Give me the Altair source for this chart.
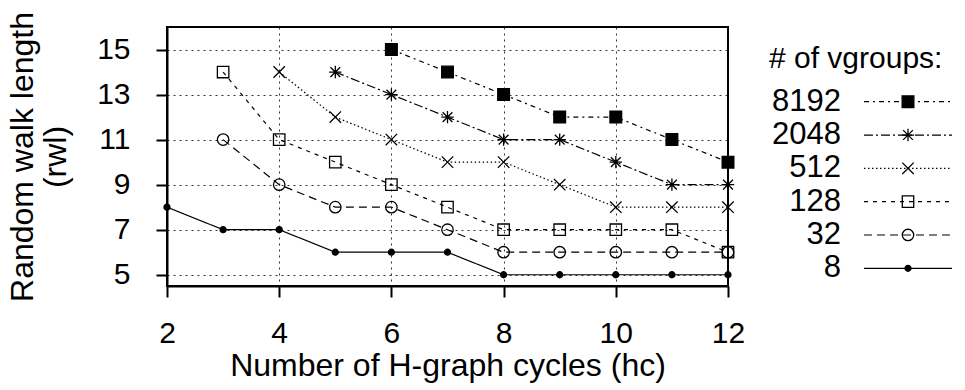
import altair as alt
import pandas as pd

# ---------------- data ----------------
series_order = ["8192", "2048", "512", "128", "32", "8"]

hc_8192 = [6, 7, 8, 9, 10, 11, 12]
rwl_8192 = [15, 14, 13, 12, 12, 11, 10]

hc_2048 = [5, 6, 7, 8, 9, 10, 11, 12]
rwl_2048 = [14, 13, 12, 11, 11, 10, 9, 9]

hc_512 = [4, 5, 6, 7, 8, 9, 10, 11, 12]
rwl_512 = [14, 12, 11, 10, 10, 9, 8, 8, 8]

hc_128 = [3, 4, 5, 6, 7, 8, 9, 10, 11, 12]
rwl_128 = [14, 11, 10, 9, 8, 7, 7, 7, 7, 6]

hc_32 = [3, 4, 5, 6, 7, 8, 9, 10, 11, 12]
rwl_32 = [11, 9, 8, 8, 7, 6, 6, 6, 6, 6]

hc_8 = [2, 3, 4, 5, 6, 7, 8, 9, 10, 11, 12]
rwl_8 = [8, 7, 7, 6, 6, 6, 5, 5, 5, 5, 5]

x_ticks = [2, 4, 6, 8, 10, 12]
y_ticks = [5, 7, 9, 11, 13, 15]
legend_title = "# of vgroups:"

# ---------------- tables ----------------
rows = []
for name, xs, ys in [
    ("8192", hc_8192, rwl_8192),
    ("2048", hc_2048, rwl_2048),
    ("512", hc_512, rwl_512),
    ("128", hc_128, rwl_128),
    ("32", hc_32, rwl_32),
    ("8", hc_8, rwl_8),
]:
    for x, y in zip(xs, ys):
        rows.append({"series": name, "hc": x, "rwl": y})
df = pd.DataFrame(rows)

leg_line = pd.DataFrame(
    [{"series": s, "row": i + 1, "lx": lx} for i, s in enumerate(series_order) for lx in (0, 1)]
)
leg_pt = pd.DataFrame([{"series": s, "row": i + 1, "lx": 0.5} for i, s in enumerate(series_order)])
leg_lab = pd.DataFrame([{"series": s, "row": i + 1, "lx": 0} for i, s in enumerate(series_order)])
leg_ttl = pd.DataFrame([{"label": legend_title, "row": 0, "lx": 0}])

# ---------------- styles ----------------
FONT = "Liberation Sans"
SQ_FILLED = "M-0.9,-0.9L0.9,-0.9L0.9,0.9L-0.9,0.9Z"
ASTER = "M-0.95,0L0.95,0M0,-0.95L0,0.95M-0.75,-0.75L0.75,0.75M-0.75,0.75L0.75,-0.75"
XMARK = "M-0.88,-0.88L0.88,0.88M-0.88,0.88L0.88,-0.88"
SQ_OPEN = "M-0.88,-0.88L0.88,-0.88L0.88,0.88L-0.88,0.88Z"
CIRC_OPEN = "M-0.88,0A0.88,0.88 0 1,0 0.88,0A0.88,0.88 0 1,0 -0.88,0Z"
CIRC_FILLED = "M-0.46,0A0.46,0.46 0 1,0 0.46,0A0.46,0.46 0 1,0 -0.46,0Z"

dash_scale = alt.Scale(domain=series_order,
                       range=[[5, 4, 2, 4], [9, 3, 2, 3], [1.5, 2.5], [4, 5], [8, 5], [1, 0]])
shape_scale = alt.Scale(domain=series_order,
                        range=[SQ_FILLED, ASTER, XMARK, SQ_OPEN, CIRC_OPEN, CIRC_FILLED])
fill_scale = alt.Scale(domain=series_order,
                       range=["black", "transparent", "transparent", "transparent", "transparent", "black"])

W, H = 561, 259

x_enc = alt.X(
    "hc:Q",
    scale=alt.Scale(domain=[2, 12], nice=False, zero=False),
    axis=alt.Axis(
        values=x_ticks, format="d", title="Number of H-graph cycles (hc)",
        labelFontSize=30, titleFontSize=32, labelPadding=21, titlePadding=2,
        labelFlush=False,
    ),
)
y_enc = alt.Y(
    "rwl:Q",
    scale=alt.Scale(domain=[4.5, 16], nice=False, zero=False),
    axis=alt.Axis(
        values=y_ticks, format="d", title=["Random walk length", "(rwl)"],
        labelFontSize=30, titleFontSize=32, labelPadding=26, titlePadding=24,
        titleLineHeight=33, labelFlush=False,
    ),
)

lines = alt.Chart(df).mark_line(color="black", strokeWidth=1.2).encode(
    x=x_enc, y=y_enc,
    strokeDash=alt.StrokeDash("series:N", scale=dash_scale, legend=None),
    detail="series:N",
)
points = alt.Chart(df).mark_point(filled=True, stroke="black", strokeWidth=1.3, opacity=1, size=169).encode(
    x="hc:Q", y="rwl:Q",
    shape=alt.Shape("series:N", scale=shape_scale, legend=None),
    fill=alt.Fill("series:N", scale=fill_scale, legend=None),
)
main = alt.layer(lines, points).properties(
    width=W, height=H,
    view=alt.ViewBackground(stroke="black", strokeWidth=2),
)

# ---------------- legend panel ----------------
lx = alt.X("lx:Q", scale=alt.Scale(domain=[0, 1], nice=False, zero=False), axis=None)
ly = alt.Y("row:Q", scale=alt.Scale(domain=[0, 6], range=[41.4, 241.3], nice=False, zero=False), axis=None)

leg_lines = alt.Chart(leg_line).mark_line(color="black", strokeWidth=1.2).encode(
    x=lx, y=ly,
    strokeDash=alt.StrokeDash("series:N", scale=dash_scale, legend=None),
    detail="series:N",
)
leg_points = alt.Chart(leg_pt).mark_point(filled=True, stroke="black", strokeWidth=1.3, opacity=1, size=169).encode(
    x=lx, y=ly,
    shape=alt.Shape("series:N", scale=shape_scale, legend=None),
    fill=alt.Fill("series:N", scale=fill_scale, legend=None),
)
leg_labels = alt.Chart(leg_lab).mark_text(
    align="right", baseline="middle", dx=-23, fontSize=31, font=FONT, color="black"
).encode(x=lx, y=ly, text="series:N")
leg_title = alt.Chart(leg_ttl).mark_text(
    align="left", baseline="middle", dx=-95, dy=-9, fontSize=30, font=FONT, color="black"
).encode(x=lx, y=ly, text="label:N")

legend = alt.layer(leg_lines, leg_points, leg_labels, leg_title).properties(
    width=88, height=H,
    view=alt.ViewBackground(stroke="transparent"),
)

chart = alt.hconcat(main, legend, spacing=136, bounds="flush").properties(
    padding={"left": 5, "top": 10, "right": 5, "bottom": 5},
).configure_view(stroke=None).configure_axis(
    labelFont=FONT, titleFont=FONT, labelColor="black", titleColor="black",
    titleFontWeight="normal", domainColor="black", domainWidth=2,
    tickColor="black", tickWidth=2, tickSize=11,
    grid=True, gridColor="black", gridDash=[2, 4], gridWidth=1, gridOpacity=0.8,
)

chart.save("out.html", embed_options={"renderer": "svg", "actions": False})
